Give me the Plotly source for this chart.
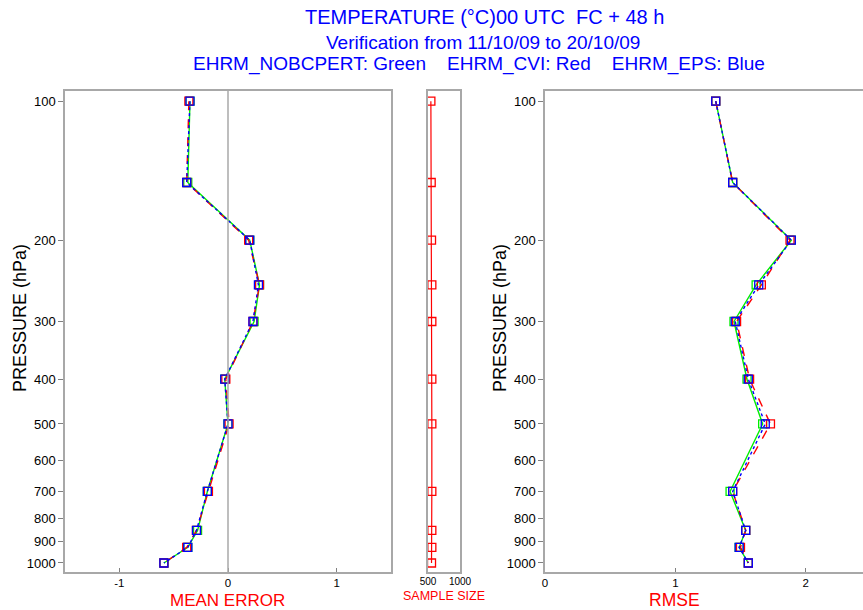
import plotly.graph_objects as go

pressure = [100, 150, 200, 250, 300, 400, 500, 700, 850, 925, 1000]

me_green = [-0.35, -0.37, 0.20, 0.29, 0.24, -0.03, 0.00, -0.19, -0.28, -0.37, -0.59]
me_red   = [-0.36, -0.38, 0.19, 0.29, 0.23, -0.02, 0.01, -0.18, -0.29, -0.38, -0.59]
me_blue  = [-0.35, -0.38, 0.20, 0.28, 0.23, -0.03, 0.00, -0.19, -0.29, -0.37, -0.59]

sample_red = [545, 550, 555, 560, 560, 560, 560, 560, 560, 560, 555]

rmse_green = [1.31, 1.44, 1.89, 1.62, 1.45, 1.55, 1.67, 1.42, 1.54, 1.49, 1.56]
rmse_red   = [1.31, 1.44, 1.88, 1.66, 1.47, 1.57, 1.73, 1.44, 1.54, 1.50, 1.56]
rmse_blue  = [1.31, 1.44, 1.89, 1.64, 1.46, 1.56, 1.69, 1.44, 1.54, 1.49, 1.56]

ytick_vals = [100, 200, 300, 400, 500, 600, 700, 800, 900, 1000]
ytick_text = [str(v) for v in ytick_vals]

W, H = 863, 610
FONT = "Liberation Sans, Arial, sans-serif"
GRAY = "#a8a8a8"

def px_x(p):
    return p / W

def px_y(p):
    return 1 - p / H

ydom = [px_y(572), px_y(91)]
yrange = [3.0195, 1.978]

fig = go.Figure()

def add_series(x, y, color, dash, xa, ya, width=1.4):
    fig.add_trace(go.Scatter(
        x=x, y=y, xaxis=xa, yaxis=ya, mode="lines+markers",
        line=dict(color=color, width=width, dash=dash),
        marker=dict(symbol="square-open", size=8, color=color, line=dict(width=1.3, color=color)),
        showlegend=False, hoverinfo="skip"))

add_series(me_green, pressure, "#00ee00", "solid", "x", "y")
add_series(me_red, pressure, "#ff0000", "dash", "x", "y")
add_series(me_blue, pressure, "#0000ff", "dot", "x", "y")

add_series(sample_red, pressure, "#ff0000", "solid", "x2", "y2", width=1.2)

add_series(rmse_green, pressure, "#00ee00", "solid", "x3", "y3")
add_series(rmse_red, pressure, "#ff0000", "dash", "x3", "y3")
add_series(rmse_blue, pressure, "#0000ff", "dot", "x3", "y3")

common_x = dict(showgrid=False, zeroline=False, showline=True, linecolor=GRAY, linewidth=1.5,
                mirror=True, ticks="inside", ticklen=4, tickcolor="#808080", automargin=False,
                ticklabelstandoff=-1,
                tickfont=dict(family=FONT, size=11.5, color="black"))
common_y = dict(type="log", range=yrange, showgrid=False, zeroline=False, showline=True,
                linecolor=GRAY, linewidth=1.5, mirror=True, domain=ydom, automargin=False,
                tickfont=dict(family=FONT, size=13, color="black"))

fig.update_layout(
    width=W, height=H, margin=dict(l=0, r=0, t=0, b=0, autoexpand=False),
    paper_bgcolor="white", plot_bgcolor="white",
    xaxis=dict(common_x, domain=[px_x(65), px_x(391)], range=[-1.5, 1.5],
               tickvals=[-1, 0, 1], ticktext=["-1", "0", "1"], anchor="y"),
    yaxis=dict(common_y, anchor="x", tickvals=ytick_vals, ticktext=ytick_text,
               ticks="outside", ticklen=5, tickcolor="#808080"),
    xaxis2=dict(common_x, domain=[px_x(428), px_x(460)], range=[500, 1000],
                tickvals=[500, 1000], ticktext=["500", "1000"], anchor="y2",
                tickfont=dict(family=FONT, size=10, color="black")),
    yaxis2=dict(common_y, anchor="x2", showticklabels=False, ticks=""),
    xaxis3=dict(common_x, domain=[px_x(545), 1.0], range=[0, 2.44],
                tickvals=[0, 1, 2], ticktext=["0", "1", "2"], anchor="y3"),
    yaxis3=dict(common_y, anchor="x3", tickvals=ytick_vals, ticktext=ytick_text,
                ticks="outside", ticklen=5, tickcolor="#808080"),
)

# zero line in mean error panel
fig.add_shape(type="line", xref="x", yref="y domain", x0=0, x1=0, y0=0, y1=1,
              line=dict(color=GRAY, width=1.5))

annots = [
    dict(text="TEMPERATURE (°C)00 UTC  FC + 48 h", x=px_x(484), y=px_y(17), size=20, color="#0000ff"),
    dict(text="Verification from 11/10/09 to 20/10/09", x=px_x(483), y=px_y(42), size=19, color="#0000ff"),
    dict(text="EHRM_NOBCPERT: Green    EHRM_CVI: Red    EHRM_EPS: Blue", x=px_x(479), y=px_y(64), size=19, color="#0000ff"),
    dict(text="MEAN ERROR", x=px_x(228), y=px_y(600), size=17, color="#ff0000"),
    dict(text="SAMPLE SIZE", x=px_x(444), y=px_y(596), size=12.5, color="#ff0000"),
    dict(text="RMSE", x=px_x(674), y=px_y(600), size=17.5, color="#ff0000"),
]
for a in annots:
    fig.add_annotation(text=a["text"], x=a["x"], y=a["y"], xref="paper", yref="paper",
                       showarrow=False, xanchor="center", yanchor="middle", borderpad=0,
                       font=dict(family=FONT, size=a["size"], color=a["color"]))

for xp in (20, 500):
    fig.add_annotation(text="PRESSURE (hPa)", x=px_x(xp), y=px_y(318), xref="paper", yref="paper",
                       showarrow=False, textangle=-90, xanchor="center", yanchor="middle",
                       font=dict(family=FONT, size=18, color="black"))

fig.write_html("out.html")
